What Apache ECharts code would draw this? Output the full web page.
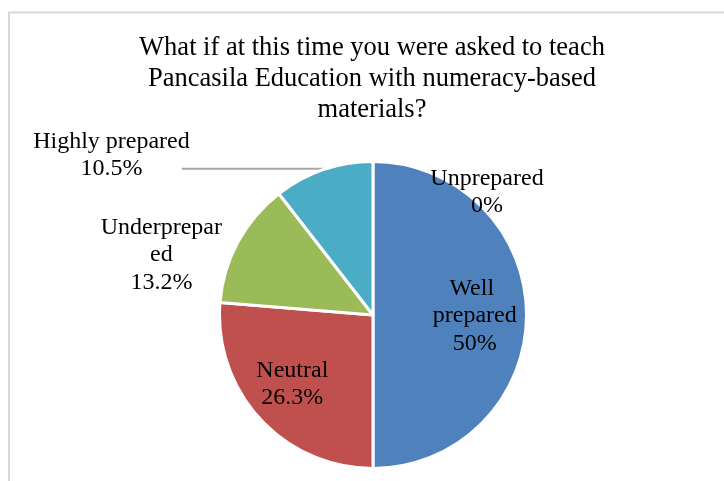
<!DOCTYPE html>
<html>
<head>
<meta charset="utf-8">
<script src="https://cdn.jsdelivr.net/npm/echarts@6/dist/echarts.min.js"></script>
<style>
  html, body { margin: 0; padding: 0; background: #fff; }
  #chart { width: 724px; height: 481px; }
</style>
</head>
<body>
<div id="chart"></div>
<script>
const titleText = 'What if at this time you were asked to teach\nPancasila Education with numeracy-based\nmaterials?'
const categories = ['Unprepared', 'Well prepared', 'Neutral', 'Underprepared', 'Highly prepared']
const shares = [0, 50, 26.3, 13.2, 10.5]
const colors = ['#8064A2', '#4F81BD', '#C0504D', '#9BBB59', '#4BACC6']
// nudges [dx, dy] from the default inside spot, Excel puts them further out
const labelShift = [[114, -43], [22, 1], [-22, 15], [-141.5, -22], [0, 0]]

const serif = "'Liberation Serif', 'Times New Roman', serif"
const myChart = echarts.init(document.getElementById('chart'))

const pieData = categories.map((name, i) => {
  const item = { name: name, value: shares[i], itemStyle: { color: colors[i] } }
  if (name === 'Well prepared') {
    item.label = { width: 100, overflow: 'break' }
  }
  if (name === 'Underprepared') {
    item.label = { width: 126, overflow: 'breakAll' }
  }
  if (name === 'Highly prepared') {
    item.label = {
      position: 'outside',
      formatter: '{h|{b}}\n{h|{c}%}',
      distanceToLabelLine: -10,
      padding: [0, 0, 27, 0],
      rich: {
        h: { width: 161, align: 'center', fontSize: 24, lineHeight: 27.5, fontFamily: serif, color: '#000' }
      }
    }
    item.labelLine = { show: true, length: 1, length2: 141 }
  }
  return item
})

myChart.setOption({
  animation: false,
  backgroundColor: '#fff',
  graphic: [
    {
      type: 'rect',
      shape: { x: 9, y: 12.5, width: 760, height: 520 },
      style: { fill: 'none', stroke: '#d9d9d9', lineWidth: 2 },
      silent: true
    },
    {
      // chart title, centred over the pie rather than the canvas
      type: 'text',
      x: 372,
      y: 33,
      silent: true,
      style: {
        text: titleText,
        align: 'center',
        verticalAlign: 'top',
        fontFamily: serif,
        fontSize: 26.5,
        lineHeight: 31,
        fill: '#000'
      }
    }
  ],
  series: [
    {
      type: 'pie',
      center: [373, 315],
      radius: 153.5,
      startAngle: 90,
      clockwise: true,
      avoidLabelOverlap: false,
      emphasis: { disabled: true },
      itemStyle: { borderColor: '#fff', borderWidth: 3 },
      label: {
        show: true,
        position: 'inside',
        formatter: '{b}\n{c}%',
        fontFamily: serif,
        fontSize: 24,
        lineHeight: 27.5,
        color: '#000'
      },
      labelLine: { show: false, lineStyle: { color: '#a6a6a6', width: 2 } },
      labelLayout: function (params) {
        const s = labelShift[params.dataIndex]
        return { dx: s[0], dy: s[1] }
      },
      data: pieData
    }
  ]
})
</script>
</body>
</html>
